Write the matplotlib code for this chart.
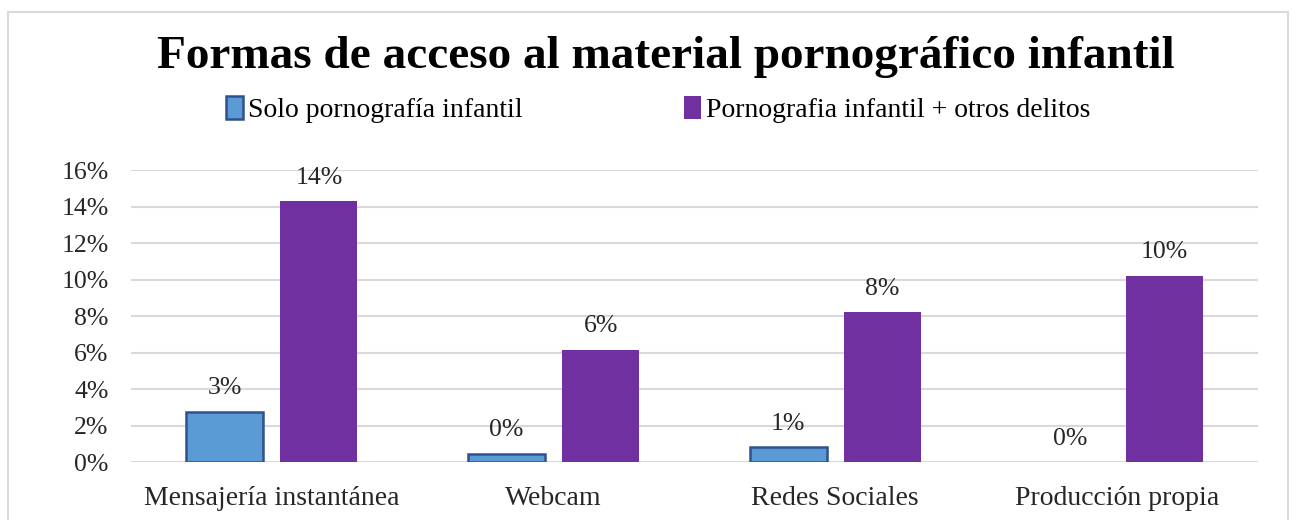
import matplotlib.pyplot as plt
import numpy as np
from matplotlib.patches import Rectangle
from matplotlib.ticker import FuncFormatter

categories = ["Mensajería instantánea", "Webcam", "Redes Sociales", "Producción propia"]
solo = [0.0275, 0.0044, 0.0082, 0.0]
otros = [0.143, 0.0614, 0.082, 0.102]
series_names = ["Solo pornografía infantil", "Pornografia infantil + otros delitos"]

plt.rcParams['font.family'] = ['Liberation Serif', 'DejaVu Serif']

fig = plt.figure(figsize=(12.96, 5.2), dpi=100)
ax = fig.add_axes([0.101, 0.1115, 0.8696, 0.5615])

x = np.arange(len(categories))
w = 0.273
off = 0.167
b1 = ax.bar(x - off, solo, w, color='#5B9BD5', edgecolor='#2F528F', linewidth=1.8,
            label=series_names[0])
b2 = ax.bar(x + off, otros, w, color='#7030A0', label=series_names[1])

# zero-height bars show no outline in the original
for r in b1:
    if r.get_height() == 0:
        r.set_linewidth(0)

for bars, vals in ((b1, solo), (b2, otros)):
    for r, v in zip(bars, vals):
        ax.annotate(f"{v*100:.0f}%", (r.get_x() + r.get_width() / 2, v),
                    xytext=(0, 9), textcoords='offset points',
                    ha='center', va='bottom', fontsize=18.5, color='#262626')

ax.set_xlim(-0.5, 3.5)
ax.set_ylim(0, 0.16)
ax.set_yticks(np.arange(0, 0.161, 0.02))
ax.yaxis.set_major_formatter(FuncFormatter(lambda v, p: f"{v*100:.0f}%"))
ax.set_xticks(x)
ax.set_xticklabels(categories)
ax.tick_params(axis='y', length=0, labelsize=18.5, colors='#262626', pad=16)
ax.tick_params(axis='x', length=0, labelsize=20, colors='#262626', pad=17)
ax.grid(axis='y', color='#D9D9D9', linewidth=1.5)
ax.set_axisbelow(True)
for s in ax.spines.values():
    s.set_visible(False)

fig.text(0.514, 1 - 68 / 520, "Formas de acceso al material pornográfico infantil",
         ha='center', va='baseline', fontsize=34, fontweight='bold')

fig.legend(handles=[b1, b2], loc='center', bbox_to_anchor=(0.508, 0.79), ncol=2,
           frameon=False, fontsize=20, handlelength=0.6, handleheight=0.9,
           handletextpad=0.2, columnspacing=5.8)

fig.patches.append(Rectangle((8 / 1296, -0.1), 1280 / 1296, 1.1 - 12 / 520,
                             transform=fig.transFigure, fill=False,
                             edgecolor='#D9D9D9', linewidth=1.5))

fig.savefig("out.png", dpi=100)
